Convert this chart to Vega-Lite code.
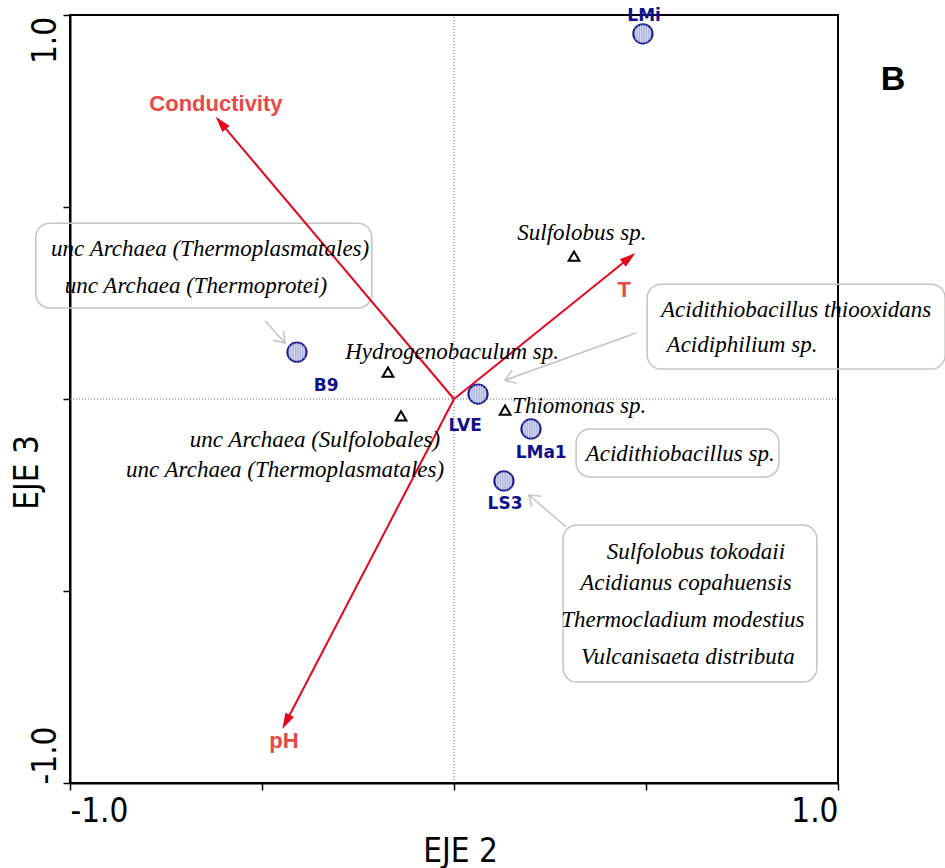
{
  "$schema": "https://vega.github.io/schema/vega-lite/v6.json",
  "autosize": "none",
  "padding": {"left": 70, "top": 15, "right": 107, "bottom": 85},
  "width": 768,
  "height": 768,
  "background": "white",
  "config": {"view": {"stroke": "black", "strokeWidth": 2}},
  "datasets": {
    "zero": [
      {"x": 0, "x2": 0, "y": -1, "y2": 1},
      {"x": -1, "x2": 1, "y": 0, "y2": 0}
    ],
    "sites": [
      {"site": "LMi", "x": 0.492, "y": 0.951},
      {"site": "B9", "x": -0.409, "y": 0.122},
      {"site": "LVE", "x": 0.0625, "y": 0.013},
      {"site": "LMa1", "x": 0.2005, "y": -0.078},
      {"site": "LS3", "x": 0.130, "y": -0.2135}
    ],
    "species": [
      {"name": "Sulfolobus sp.", "x": 0.3125, "y": 0.372},
      {"name": "Hydrogenobaculum sp.", "x": -0.172, "y": 0.070},
      {"name": "unc Archaea (Sulfolobales)", "x": -0.138, "y": -0.044},
      {"name": "Thiomonas sp.", "x": 0.133, "y": -0.029}
    ],
    "vectors": [
      {"var": "Conductivity", "x": -0.607, "y": 0.719},
      {"var": "T", "x": 0.456, "y": 0.367},
      {"var": "pH", "x": -0.4375, "y": -0.841}
    ],
    "pointers": [
      {"target": "B9", "x": -0.440, "y": 0.146, "x2": -0.492, "y2": 0.203},
      {"target": "LVE", "x": 0.133, "y": 0.049, "x2": 0.474, "y2": 0.172},
      {"target": "LS3", "x": 0.195, "y": -0.250, "x2": 0.292, "y2": -0.333}
    ],
    "boxes": [
      {"box": 1, "x": -1.089, "x2": -0.214, "y": 0.458, "y2": 0.237},
      {"box": 2, "x": 0.503, "x2": 1.279, "y": 0.299, "y2": 0.078},
      {"box": 3, "x": 0.318, "x2": 0.846, "y": -0.078, "y2": -0.203},
      {"box": 4, "x": 0.284, "x2": 0.945, "y": -0.328, "y2": -0.737}
    ],
    "labels": [
      {"text": "Sulfolobus sp.", "x": 0.333, "y": 0.414, "kind": "taxon"},
      {"text": "Hydrogenobaculum sp.", "x": -0.005, "y": 0.104, "kind": "taxon"},
      {"text": "Thiomonas sp.", "x": 0.326, "y": -0.036, "kind": "taxon"},
      {"text": "unc Archaea (Sulfolobales)", "x": -0.362, "y": -0.125, "kind": "taxon"},
      {"text": "unc Archaea (Thermoplasmatales)", "x": -0.440, "y": -0.203, "kind": "taxon"},
      {"text": "unc Archaea (Thermoplasmatales)", "x": -0.635, "y": 0.372, "kind": "taxon"},
      {"text": "unc Archaea (Thermoprotei)", "x": -0.672, "y": 0.276, "kind": "taxon"},
      {"text": "Acidithiobacillus thiooxidans", "x": 0.891, "y": 0.2135, "kind": "taxon"},
      {"text": "Acidiphilium sp.", "x": 0.750, "y": 0.122, "kind": "taxon"},
      {"text": "Acidithiobacillus sp.", "x": 0.589, "y": -0.161, "kind": "taxon"},
      {"text": "Sulfolobus tokodaii", "x": 0.630, "y": -0.417, "kind": "taxon"},
      {"text": "Acidianus copahuensis", "x": 0.604, "y": -0.497, "kind": "taxon"},
      {"text": "Thermocladium modestius", "x": 0.596, "y": -0.594, "kind": "taxon"},
      {"text": "Vulcanisaeta distributa", "x": 0.609, "y": -0.690, "kind": "taxon"},
      {"text": "LMi", "x": 0.495, "y": 0.984, "kind": "site"},
      {"text": "B9", "x": -0.333, "y": 0.021, "kind": "site"},
      {"text": "LVE", "x": 0.029, "y": -0.083, "kind": "site"},
      {"text": "LMa1", "x": 0.227, "y": -0.154, "kind": "site"},
      {"text": "LS3", "x": 0.133, "y": -0.286, "kind": "site"},
      {"text": "Conductivity", "x": -0.620, "y": 0.750, "kind": "env"},
      {"text": "T", "x": 0.443, "y": 0.266, "kind": "env"},
      {"text": "pH", "x": -0.443, "y": -0.909, "kind": "env"},
      {"text": "B", "x": 1.143, "y": 0.805, "kind": "panel"}
    ]
  },
  "encoding": {
    "x": {
      "field": "x", "type": "quantitative",
      "scale": {"domain": [-1, 1], "nice": false, "zero": false},
      "axis": {
        "values": [-1, -0.5, 0, 0.5, 1],
        "labelExpr": "datum.value == 1 ? '1.0' : datum.value == -1 ? '-1.0' : ''",
        "labelFlush": true,
        "labelFont": "Liberation Sans Narrow, DejaVu Sans Condensed, Liberation Sans",
        "labelFontSize": 33,
        "labelColor": "black",
        "labelPadding": 5,
        "labelBaseline": "top",
        "tickSize": 7, "tickColor": "black", "tickWidth": 1.5,
        "domainColor": "black", "domainWidth": 2,
        "grid": false,
        "title": "EJE 2",
        "titleFont": "Liberation Sans Narrow, DejaVu Sans Condensed, Liberation Sans",
        "titleFontSize": 33, "titleFontWeight": "normal", "titleColor": "black",
        "titleX": 390, "titleY": 78, "titleBaseline": "alphabetic", "titleAlign": "center"
      }
    },
    "y": {
      "field": "y", "type": "quantitative",
      "scale": {"domain": [-1, 1], "nice": false, "zero": false},
      "axis": {
        "values": [-1, -0.5, 0, 0.5, 1],
        "labelExpr": "datum.value == 1 ? '1.0' : datum.value == -1 ? '-1.0' : ''",
        "labelAngle": -90,
        "labelAlign": "center",
        "labelBaseline": "alphabetic",
        "labelOffset": {"condition": {"test": "datum.value > 0", "value": 25}, "value": -28},
        "labelFont": "Liberation Sans Narrow, DejaVu Sans Condensed, Liberation Sans",
        "labelFontSize": 33,
        "labelColor": "black",
        "labelPadding": 8,
        "tickSize": 7, "tickColor": "black", "tickWidth": 1.5,
        "domainColor": "black", "domainWidth": 2,
        "grid": false,
        "title": "EJE 3",
        "titleFont": "Liberation Sans Narrow, DejaVu Sans Condensed, Liberation Sans",
        "titleFontSize": 33, "titleFontWeight": "normal", "titleColor": "black",
        "titleX": -33, "titleY": 457, "titleBaseline": "alphabetic", "titleAlign": "center", "titleAngle": -90
      }
    }
  },
  "layer": [
    {
      "data": {"name": "zero"},
      "mark": {"type": "rule", "color": "#666666", "strokeWidth": 1, "strokeDash": [1, 2]},
      "encoding": {"x2": {"field": "x2"}, "y2": {"field": "y2"}}
    },
    {
      "data": {"name": "boxes"},
      "mark": {"type": "rect", "fill": null, "fillOpacity": 0, "stroke": "#c4c4c4", "strokeWidth": 1.5, "cornerRadius": 14},
      "encoding": {"x2": {"field": "x2"}, "y2": {"field": "y2"}}
    },
    {
      "data": {"name": "pointers"},
      "mark": {"type": "rule", "color": "#c4c4c4", "strokeWidth": 1.5},
      "encoding": {"x2": {"field": "x2"}, "y2": {"field": "y2"}}
    },
    {
      "data": {"name": "pointers"},
      "transform": [{"calculate": "atan2(datum.x - datum.x2, datum.y - datum.y2) * 180 / PI", "as": "angle"}],
      "mark": {"type": "point", "shape": "M-0.7,1L0,0L0.7,1", "filled": false, "stroke": "#c4c4c4", "strokeWidth": 1.5, "size": 400, "opacity": 1},
      "encoding": {"angle": {"field": "angle", "type": "quantitative", "scale": null}}
    },
    {
      "data": {"name": "vectors"},
      "mark": {"type": "rule", "color": "#e3061f", "strokeWidth": 2},
      "encoding": {"x2": {"datum": 0}, "y2": {"datum": 0}}
    },
    {
      "data": {"name": "vectors"},
      "transform": [{"calculate": "atan2(datum.x, datum.y) * 180 / PI", "as": "angle"}],
      "mark": {"type": "point", "shape": "M0,-1L0.6,1L-0.6,1Z", "filled": true, "color": "#e3061f", "size": 256, "opacity": 1},
      "encoding": {"angle": {"field": "angle", "type": "quantitative", "scale": null}}
    },
    {
      "data": {"name": "species"},
      "mark": {"type": "point", "shape": "triangle-up", "filled": false, "stroke": "black", "strokeWidth": 2, "size": 115, "opacity": 1}
    },
    {
      "data": {"name": "sites"},
      "mark": {"type": "point", "shape": "circle", "size": 370, "filled": true, "fill": "#b0b5dd", "stroke": "#1a1a90", "strokeWidth": 2, "opacity": 1}
    },
    {
      "data": {"name": "sites"},
      "mark": {"type": "point", "shape": "M-0.75,-0.66L-0.75,0.66M-0.5,-0.87L-0.5,0.87M-0.25,-0.97L-0.25,0.97M0,-1L0,1M0.25,-0.97L0.25,0.97M0.5,-0.87L0.5,0.87M0.75,-0.66L0.75,0.66", "filled": false, "stroke": "white", "strokeWidth": 0.7, "size": 360, "opacity": 0.75}
    },
    {
      "data": {"name": "labels"},
      "transform": [{"filter": "datum.kind == 'taxon'"}],
      "mark": {"type": "text", "font": "Liberation Serif", "fontStyle": "italic", "fontSize": 23, "align": "center", "baseline": "alphabetic", "color": "black"},
      "encoding": {"text": {"field": "text"}}
    },
    {
      "data": {"name": "labels"},
      "transform": [{"filter": "datum.kind == 'site'"}],
      "mark": {"type": "text", "font": "DejaVu Sans", "fontWeight": "bold", "fontSize": 17, "align": "center", "baseline": "alphabetic", "color": "#10108c"},
      "encoding": {"text": {"field": "text"}}
    },
    {
      "data": {"name": "labels"},
      "transform": [{"filter": "datum.kind == 'env'"}],
      "mark": {"type": "text", "font": "Liberation Sans", "fontWeight": "bold", "fontSize": 22, "align": "center", "baseline": "alphabetic", "color": "#e84848"},
      "encoding": {"text": {"field": "text"}}
    },
    {
      "data": {"name": "labels"},
      "transform": [{"filter": "datum.kind == 'panel'"}],
      "mark": {"type": "text", "font": "Liberation Sans", "fontWeight": "bold", "fontSize": 34, "align": "center", "baseline": "alphabetic", "color": "black"},
      "encoding": {"text": {"field": "text"}}
    }
  ]
}
